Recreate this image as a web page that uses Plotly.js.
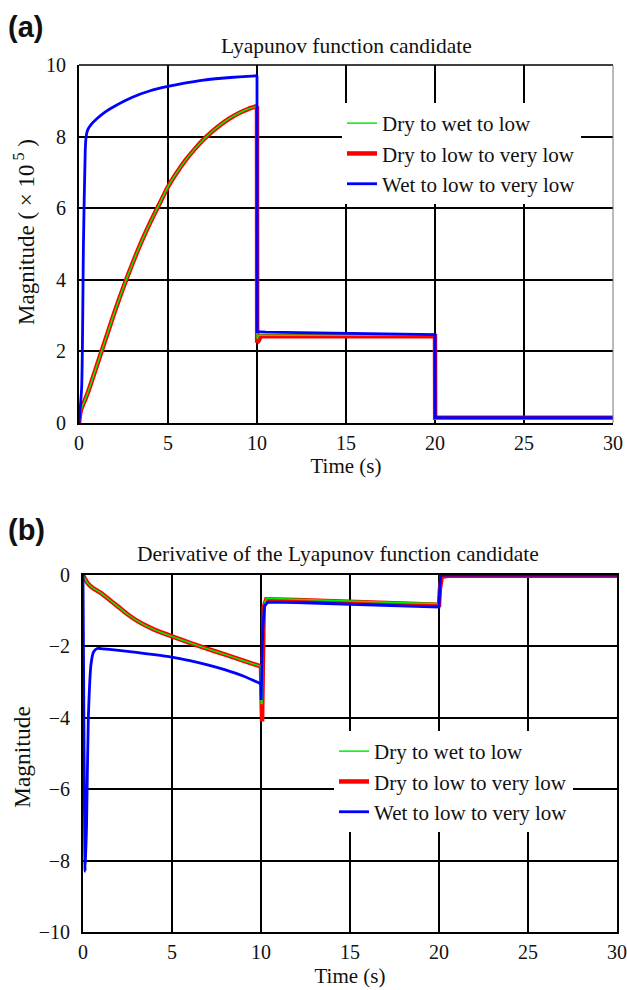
<!DOCTYPE html>
<html>
<head>
<meta charset="utf-8">
<script src="https://cdn.plot.ly/plotly-3.0.1.min.js"></script>
<style>html,body{margin:0;padding:0;background:#fff;}#plot{width:627px;height:990px;}</style>
</head>
<body>
<div id="plot"></div>
<script>
// ---------- Panel (a): Lyapunov function candidate (x 10^5) ----------
// smooth rise, 0..10 s
const tA_dryRise = [0, 0.1, 0.3, 0.5, 1, 1.5, 2, 2.5, 3, 3.5, 4, 4.5, 5, 5.5, 6, 6.5, 7, 7.5, 8, 8.5, 9, 9.5, 10];
const vA_dryLowRise = [0, 0.35, 0.6, 0.85, 1.6, 2.35, 3.1, 3.8, 4.45, 5.05, 5.6, 6.1, 6.6, 7.0, 7.35, 7.65, 7.92, 8.15, 8.35, 8.52, 8.66, 8.77, 8.85];
const vA_dryWetRise = [0, 0.35, 0.6, 0.85, 1.6, 2.35, 3.1, 3.8, 4.45, 5.05, 5.6, 6.1, 6.6, 7.0, 7.35, 7.65, 7.92, 8.15, 8.35, 8.52, 8.66, 8.77, 8.85];
const tA_wetRise = [0, 0.15, 0.25, 0.35, 0.4, 0.5, 0.7, 1, 1.5, 2, 3, 4, 5, 6, 7, 8, 9, 10];
const vA_wetLowRise = [0, 1, 5, 7.6, 8.0, 8.2, 8.35, 8.5, 8.7, 8.85, 9.1, 9.28, 9.4, 9.5, 9.58, 9.63, 9.67, 9.7];
// steps, 10..30 s
const tA_dryStep = [10, 10.01, 10.1, 10.2, 20, 20.01, 30];
const vA_dryLowStep = [8.85, 2.25, 2.3, 2.42, 2.42, 0.15, 0.15];
const vA_dryWetStep = [8.85, 2.35, 2.45, 2.45, 2.45, 0.12, 0.12];
const tA_wetStep = [10, 10.01, 10.5, 15, 20, 20.01, 30];
const vA_wetLowStep = [9.7, 2.55, 2.54, 2.5, 2.47, 0.15, 0.15];

// ---------- Panel (b): Derivative of the Lyapunov function candidate ----------
const tB_dryRise = [0, 0.1, 0.3, 0.6, 1, 1.5, 2, 2.5, 3, 3.5, 4, 4.5, 5, 6, 7, 8, 9, 10];
const vB_dryLowRise = [0, -0.1, -0.25, -0.38, -0.5, -0.7, -0.9, -1.1, -1.27, -1.41, -1.53, -1.63, -1.72, -1.9, -2.07, -2.23, -2.4, -2.56];
const vB_dryWetRise = [0, -0.1, -0.25, -0.38, -0.5, -0.7, -0.9, -1.1, -1.27, -1.41, -1.53, -1.63, -1.72, -1.9, -2.07, -2.23, -2.4, -2.56];
const tB_wetRise = [0, 0.05, 0.12, 0.2, 0.3, 0.45, 0.6, 0.8, 1, 2, 3, 4, 5, 6, 7, 8, 9, 10];
const vB_wetLowRise = [0, -4, -8.3, -7, -4, -2.5, -2.15, -2.06, -2.06, -2.11, -2.17, -2.23, -2.3, -2.4, -2.52, -2.66, -2.83, -3.05];
const tB_dryStep = [10, 10.01, 10.06, 10.15, 10.3, 12, 15, 18, 20, 20.05, 20.15, 20.5, 30];
const vB_dryLowStep = [-2.56, -4.1, -4.1, -0.9, -0.68, -0.7, -0.75, -0.8, -0.83, -0.4, -0.05, -0.02, -0.02];
const vB_dryWetStep = [-2.56, -3.6, -3.6, -0.85, -0.65, -0.68, -0.73, -0.78, -0.8, -0.1, 0, 0, 0];
const tB_wetStep = [10, 10.01, 10.1, 10.2, 10.4, 12, 15, 18, 20, 20.05, 20.1, 30];
const vB_wetLowStep = [-3.05, -3.5, -1.5, -0.85, -0.76, -0.77, -0.82, -0.87, -0.9, -0.3, 0, 0];

const names = ["Dry to wet to low", "Dry to low to very low", "Wet to low to very low"];
const colors = ["#00ee00", "#ff0000", "#0000ff"];
const widths = [1.5, 4.5, 2.8];

const SERIF = "Liberation Serif";
const SANS = "Liberation Sans";

function tr(x, y, i, xa, ya, leg, smooth) {
  return {
    x: x, y: y, xaxis: xa, yaxis: ya, type: "scatter", mode: "lines",
    name: names[i], legend: leg, legendrank: i + 1, legendgroup: leg + i,
    showlegend: smooth,
    line: smooth ? {color: colors[i], width: widths[i], shape: "spline", smoothing: 0.6}
                 : {color: colors[i], width: widths[i], shape: "linear"}
  };
}

const data = [
  tr(tA_dryRise, vA_dryLowRise, 1, "x", "y", "legend", true),
  tr(tA_dryStep, vA_dryLowStep, 1, "x", "y", "legend", false),
  tr(tA_dryRise, vA_dryWetRise, 0, "x", "y", "legend", true),
  tr(tA_dryStep, vA_dryWetStep, 0, "x", "y", "legend", false),
  tr(tA_wetRise, vA_wetLowRise, 2, "x", "y", "legend", true),
  tr(tA_wetStep, vA_wetLowStep, 2, "x", "y", "legend", false),
  tr(tB_dryRise, vB_dryLowRise, 1, "x2", "y2", "legend2", true),
  tr(tB_dryStep, vB_dryLowStep, 1, "x2", "y2", "legend2", false),
  tr(tB_dryRise, vB_dryWetRise, 0, "x2", "y2", "legend2", true),
  tr(tB_dryStep, vB_dryWetStep, 0, "x2", "y2", "legend2", false),
  tr(tB_wetRise, vB_wetLowRise, 2, "x2", "y2", "legend2", true),
  tr(tB_wetStep, vB_wetLowStep, 2, "x2", "y2", "legend2", false)
];

const W = 627, H = 990;

function xax(domain, anchor, mirror, standoff) {
  return {
    domain: domain, anchor: anchor, range: [0, 30], dtick: 5, tick0: 0,
    showgrid: true, gridcolor: "#000", gridwidth: 2,
    showline: true, linecolor: "#000", linewidth: 2, mirror: mirror,
    zeroline: false, ticks: "", ticklabelstandoff: 1,
    tickfont: {family: SERIF, size: 20, color: "#111"},
    title: {text: "Time (s)", font: {family: SERIF, size: 21, color: "#111"}, standoff: standoff}
  };
}
function yax(domain, anchor, range, mirror) {
  return {
    domain: domain, anchor: anchor, range: range, dtick: 2,
    showgrid: true, gridcolor: "#000", gridwidth: 2,
    showline: true, linecolor: "#000", linewidth: 2, mirror: mirror,
    zeroline: false, ticks: "", ticklabelstandoff: 7,
    tickfont: {family: SERIF, size: 20, color: "#111"}
  };
}

const layout = {
  width: W, height: H,
  margin: {l: 0, r: 0, t: 0, b: 0},
  paper_bgcolor: "#fff", plot_bgcolor: "#fff",
  font: {family: SERIF, color: "#111"},
  showlegend: true,
  xaxis: xax([79 / W, 613 / W], "y", false, 3),
  yaxis: yax([1 - 423 / H, 1 - 65 / H], "x", [0, 10], false),
  xaxis2: xax([83 / W, 617 / W], "y2", true, 6),
  yaxis2: yax([1 - 932 / H, 1 - 575 / H], "x2", [-10, 0], true),
  legend: {
    x: 342 / W, y: 1 - 103 / H, xanchor: "left", yanchor: "top",
    bgcolor: "#fff", borderwidth: 0,
    font: {family: SERIF, size: 21, color: "#111"}, traceorder: "normal"
  },
  legend2: {
    x: 334 / W, y: 1 - 731 / H, xanchor: "left", yanchor: "top",
    bgcolor: "#fff", borderwidth: 0,
    font: {family: SERIF, size: 21, color: "#111"}, traceorder: "normal"
  },
  shapes: [
    {type: "line", xref: "x domain", yref: "y domain", x0: 0, x1: 1, y0: 1, y1: 1, line: {color: "#000", width: 1.3}},
    {type: "line", xref: "x domain", yref: "y domain", x0: 1, x1: 1, y0: 0, y1: 1, line: {color: "#777", width: 1}}
  ],
  annotations: [
    {text: "<b>(a)</b>", xref: "paper", yref: "paper", x: 6 / W, y: 1 - 27 / H, xanchor: "left", yanchor: "middle", showarrow: false,
     font: {family: SANS, size: 29, color: "#111"}},
    {text: "<b>(b)</b>", xref: "paper", yref: "paper", x: 6 / W, y: 1 - 530 / H, xanchor: "left", yanchor: "middle", showarrow: false,
     font: {family: SANS, size: 29, color: "#111"}},
    {text: "Lyapunov function candidate", xref: "paper", yref: "paper", x: 346 / W, y: 1 - 46 / H, xanchor: "center", yanchor: "middle", showarrow: false,
     font: {family: SERIF, size: 21.5, color: "#111"}},
    {text: "Derivative of the Lyapunov function candidate", xref: "paper", yref: "paper", x: 338 / W, y: 1 - 554 / H, xanchor: "center", yanchor: "middle", showarrow: false,
     font: {family: SERIF, size: 21.5, color: "#111"}},
    {text: "Magnitude (\u00A0×\u00A010<sup>\u00A05</sup>\u00A0)", xref: "paper", yref: "paper", x: 25 / W, y: 1 - 232 / H, xanchor: "center", yanchor: "middle", textangle: -90, showarrow: false,
     font: {family: SERIF, size: 23, color: "#111"}},
    {text: "Magnitude", xref: "paper", yref: "paper", x: 22 / W, y: 1 - 757 / H, xanchor: "center", yanchor: "middle", textangle: -90, showarrow: false,
     font: {family: SERIF, size: 23.5, color: "#111"}}
  ]
};

Plotly.newPlot("plot", data, layout, {displayModeBar: false, staticPlot: true});
</script>
</body>
</html>
